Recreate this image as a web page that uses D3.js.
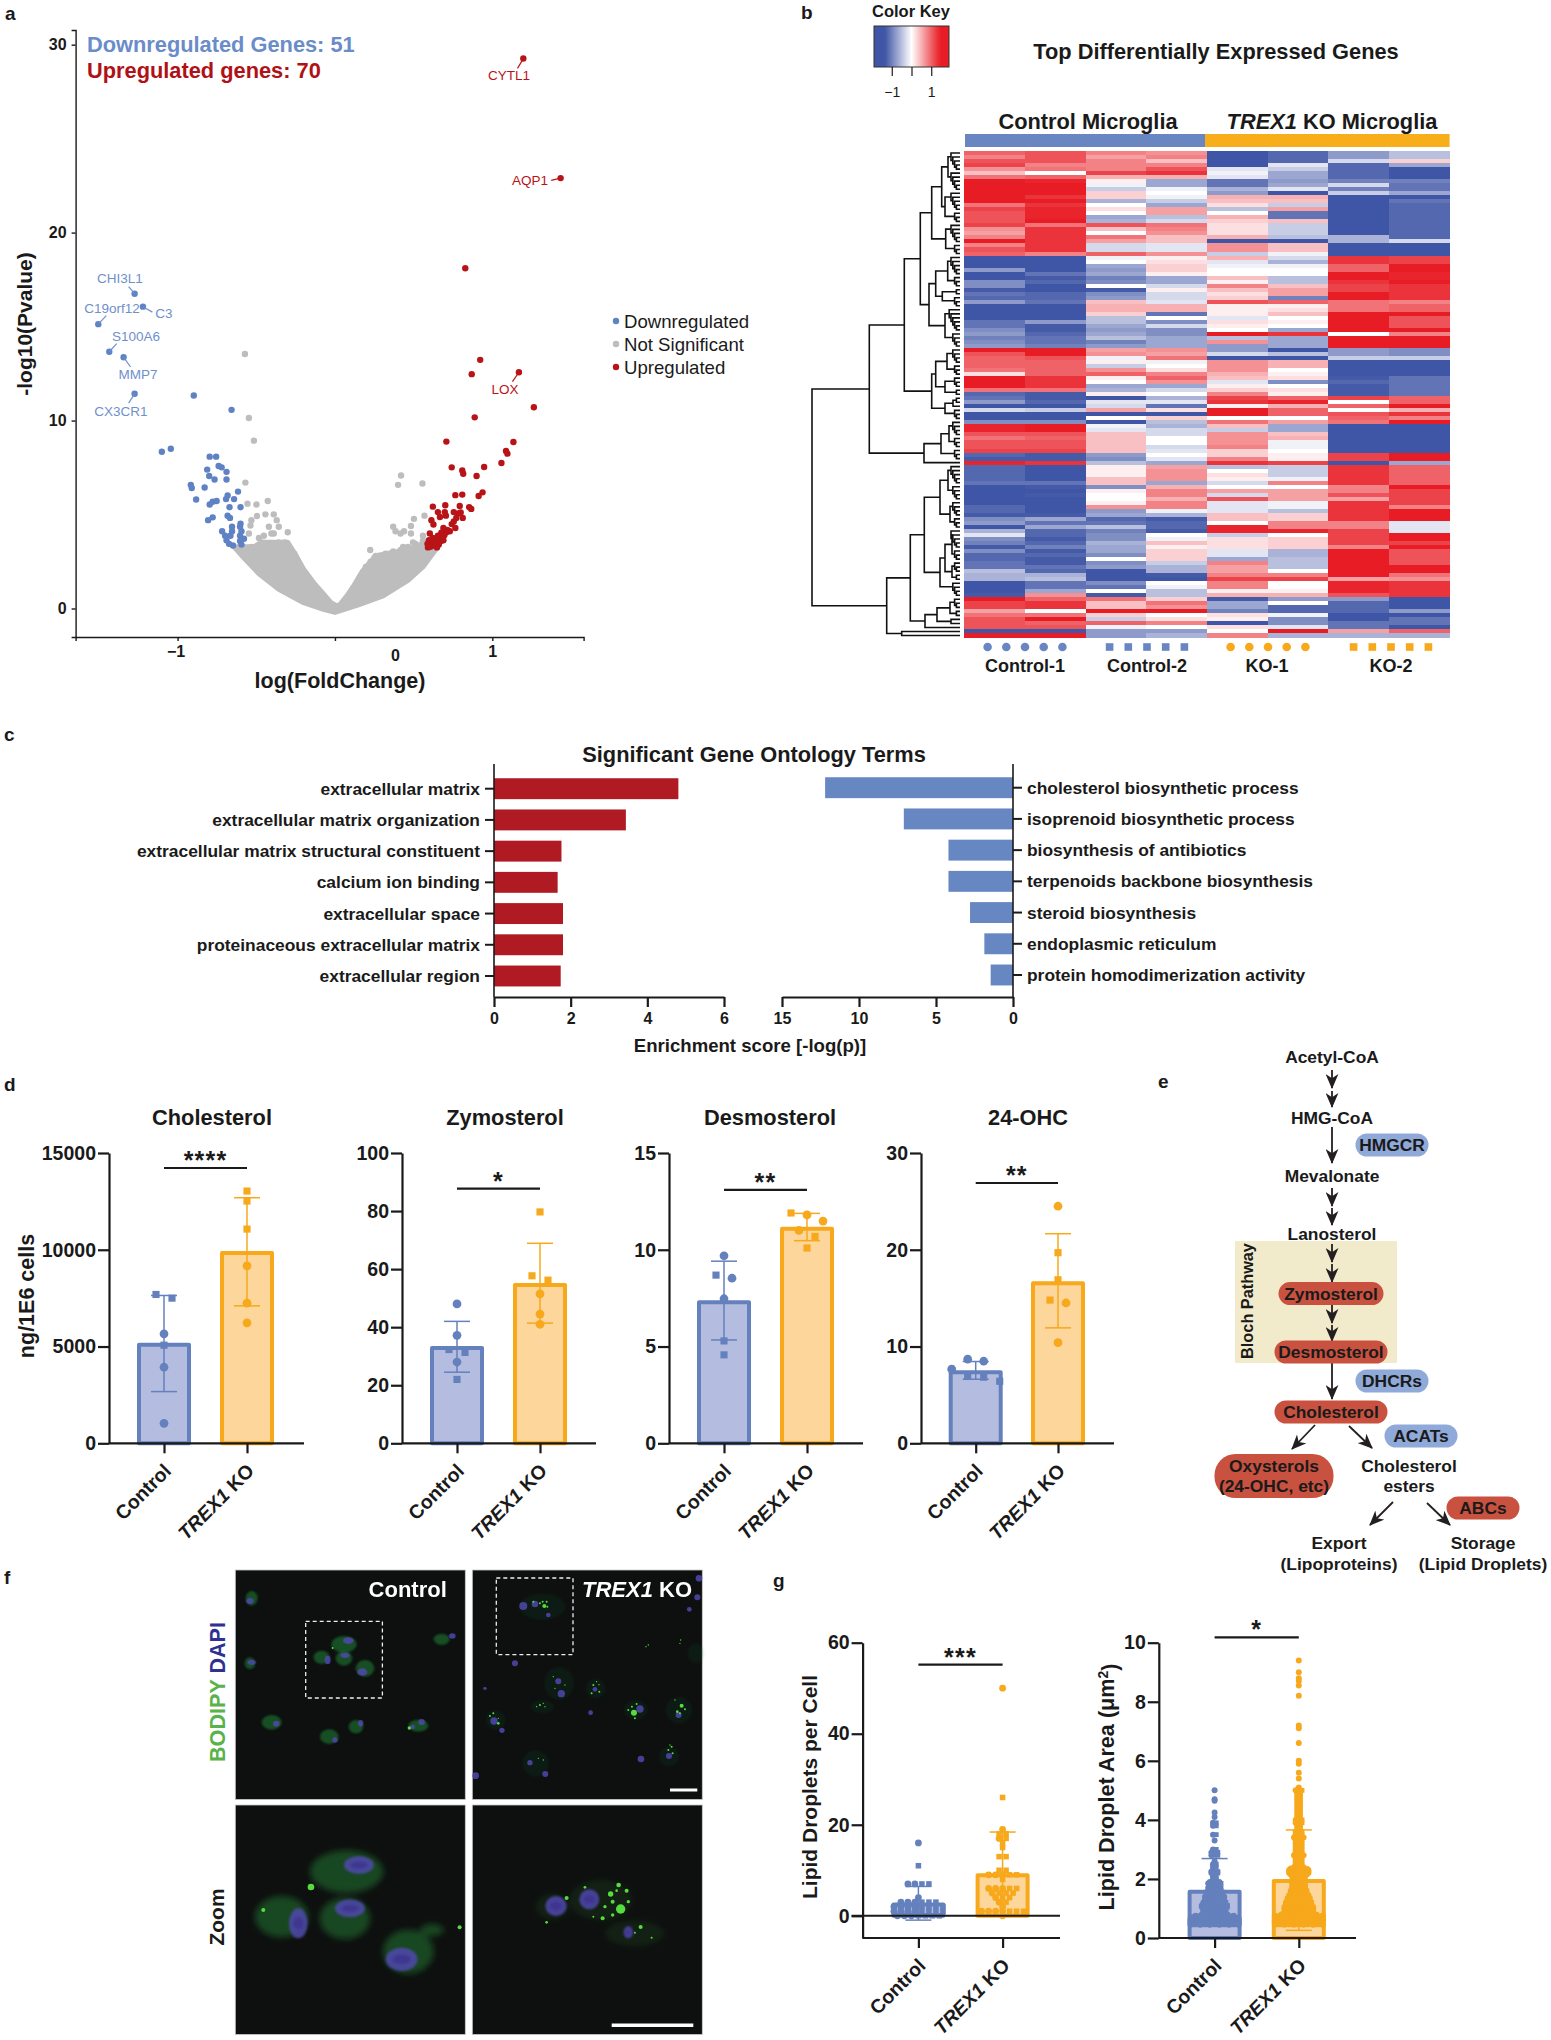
<!DOCTYPE html>
<meta charset="utf-8">
<style>
  body { margin: 0; background: #fff; }
  text { font-family: "Liberation Sans", Arial, sans-serif; fill: #1a1a1a; }
  .b { font-weight: bold; }
</style>
<svg width="1551" height="2040"></svg>
<script src="https://cdnjs.cloudflare.com/ajax/libs/d3/7.8.5/d3.min.js"></script>
<script>

// ---------- a: volcano ----------
var upX = [1.197,1.434,.828,.923,1.169,.869,1.264,.888,.708,1.134,1.087,1.096,1.058,.948,.742,.809,.815,.900,.938,.913,.765,.809,.622,.701,.793,.853,.866,.654,.698,.667,.755,.799,.784,.812,.613,.626,.742,.689,.765,.730,.708,.682,.603,.654,.622,.686,.648,.597,.673,.638,.610,.660,.622,.591,.648,.616,.632,.667,.695,.714,.607,.635,.657,.755,.705,.689,.641,.588,.676,.771];
var upY = [29.26,22.90,18.10,13.23,12.57,12.47,10.71,10.17,8.88,8.86,8.38,8.24,7.74,7.53,7.51,7.34,7.17,7.05,6.18,5.99,6.03,6.06,5.42,5.49,5.46,5.39,5.30,5.13,5.13,4.87,5.13,5.11,5.06,4.82,4.70,4.47,4.49,4.28,4.28,4.11,4.06,3.99,3.99,3.87,3.75,3.75,3.63,3.63,3.59,3.52,3.44,3.40,3.35,3.25,3.25,3.56,3.66,3.71,3.90,4.18,3.28,3.42,3.56,4.63,4.94,3.63,3.35,3.44,4.04,4.82];
var downX = [-1.273,-1.220,-1.504,-1.434,-1.343,-1.273,-.897,-.657,-1.100,-1.043,-.796,-.755,-.739,-.720,-.812,-.689,-.799,-.765,-.689,-.916,-.910,-.828,-.616,-.682,-.641,-.882,-.692,-.752,-.777,-.796,-.670,-.600,-.682,-.667,-.777,-.806,-.600,-.654,-.717,-.603,-.594,-.654,-.698,-.664,-.603,-.578,-.689,-.603,-.673,-.648,-.594];
var downY = [16.75,16.06,15.13,13.66,13.37,11.43,11.33,10.57,8.34,8.50,8.08,8.08,7.58,7.51,7.39,7.27,7.05,6.86,6.86,6.58,6.41,6.44,6.22,6.01,5.82,5.80,5.82,5.72,5.68,5.53,5.39,5.39,4.94,4.82,4.85,4.70,4.51,4.35,4.11,4.35,4.11,4.11,3.87,3.87,3.87,3.71,3.63,3.59,3.44,3.35,3.40];
var nsX = [-.572,-.547,-.515,-.569,.420,.401,.556,-.427,-.556,-.499,-.442,-.389,-.496,-.531,-.370,-.537,-.357,-.300,-.420,-.404,-.452,-.483,-.389,-.547,-.319,-.363,.370,.502,.483,.569,.385,.439,.483,.417,.224,.559,.496,.433,.322,.259,.354,-.259,-.278,-.468,
  -.246,-.310,-.357,-.404,-.452,-.499,-.531,-.231,-.199,-.167,.180,.227,.275,.370,.417,.464,.512,.559,.164,.133,.196,.250];
var nsY = [13.54,10.14,8.93,6.70,7.08,6.58,6.65,5.72,5.58,5.53,5.01,5.01,4.92,4.70,4.70,4.42,4.35,4.06,4.35,3.99,3.87,3.75,3.99,3.99,3.52,3.35,4.35,4.77,4.39,4.94,4.11,4.11,3.99,3.99,3.11,3.87,3.52,3.28,2.92,2.80,2.80,2.92,3.04,3.52,
  2.68,3.28,3.52,3.28,3.40,3.04,3.28,2.33,1.97,1.62,1.97,2.49,2.80,3.04,3.11,3.28,3.44,3.59,1.50,1.26,2.21,2.68];
// outline of the dense grey mass, going round it once
var massX = [0,.149,.306,.464,.559,.654,.591,.512,.401,.322,.259,.196,.164,.123,.076,.022,0,-.025,-.073,-.136,-.199,-.246,-.300,-.373,-.468,-.515,-.641,-.578,-.483,-.357,-.199,-.073];
var massY = [-.21,.19,.67,1.50,2.21,3.28,3.59,3.28,3.04,2.92,2.80,2.21,1.85,1.26,.67,.12,.19,.31,.78,1.38,2.09,2.80,3.52,3.52,3.52,3.28,3.28,2.68,1.85,1.02,.31,-.05];

var geneNames = ["CHI3L1","C19orf12","C3","S100A6","MMP7","CX3CR1","CYTL1","AQP1","LOX"];
var geneX = [-1.273,-1.504,-1.220,-1.434,-1.343,-1.273,1.197,1.434,1.169];
var geneY = [16.75,15.13,16.06,13.66,13.37,11.43,29.26,22.90,12.57];
var geneEndX = [-1.311,-1.453,-1.160,-1.387,-1.299,-1.311,1.160,1.374,1.128];
var geneEndY = [17.13,15.58,15.77,14.09,12.85,10.93,28.74,22.78,12.07];
var legendNames = ["Downregulated","Not Significant","Upregulated"];

// ---------- b: heatmap, one array per column, top row first ----------
var heatCol1 = [1.0,.8,1.1,1.2,.7,.4,.9,1.5,1.6,1.6,1.6,1.6,1.6,.9,1.2,1.1,1.1,1.1,1.2,.7,.6,.8,1.5,.8,1.1,1.0,
  -1.4,-1.4,-1.4,-.8,-1.4,-1.4,-.9,-.9,-1.3,-1.1,-1.2,-.8,-1.5,-1.5,-1.5,-1.5,-1.1,-1.1,-.9,-.8,-1.0,-.9,-.8,
  1.5,1.1,1.0,1.0,1.0,.9,.2,1.5,
  1.5,1.5,.9,-1.2,-1.1,-.8,-1.4,-.3,-1.5,-1.5,-.9,1.4,1.4,1.1,.9,1.1,1.1,1.2,-1.2,-1.3,1.4,
  -1.2,-1.2,-1.2,-1.2,-1.1,-1.4,-1.5,-1.5,-1.4,-1.4,-1.2,-1.2,-1.3,-.9,-.8,-1.5,-.6,-.2,-.9,-1.0,-1.3,-.9,-1.2,-1.2,-1.1,-1.1,-.5,-.6,-.6,-1.5,-1.5,-1.5,-1.3,
  1.5,1.2,1.2,.6,.9,1.1,1.1,1.1,-1.4,1.5];
var heatCol2 = [1.1,1.1,1.1,.8,.9,0,1.0,1.4,1.5,1.5,1.5,1.3,1.6,1.3,1.4,1.4,1.4,1.6,.9,1.3,1.3,1.3,1.3,1.3,1.3,.8,
  -1.5,-1.5,-1.5,-1.5,-1.1,-1.3,-1.2,-1.4,-1.4,-1.2,-1.2,-1.1,-1.5,-1.5,-1.5,-1.5,-.8,-1.3,-1.3,-1.2,-1.1,-1.1,-1.0,
  1.5,1.5,1.1,1.0,1.0,1.0,1.0,1.3,
  1.3,1.3,.9,-1.3,-1.3,-1.2,-1.4,-.4,-1.6,-1.6,-.9,1.6,1.5,1.1,1.0,1.1,1.1,1.2,-1.3,-1.3,1.3,
  -1.5,-1.5,-1.5,-1.4,-1.1,-1.3,-1.4,-1.3,-1.5,-1.5,-1.4,-1.4,-1.3,-.7,-1.1,-.7,-1.2,-1.2,-1.3,-1.2,-1.0,-1.3,-1.2,-1.3,-1.3,-1.1,-1.2,-.6,-.5,-1.1,-1.1,-.7,.7,
  1.0,1.3,1.3,0,.9,1.5,1.0,1.1,-1.4,1.5];
var heatCol3 = [.8,.6,.8,.8,.8,1.2,.5,.1,-.1,-.4,.3,.3,-.6,0,.2,0,-.7,-.6,1.1,.4,0,.9,.6,-.3,-.3,1.0,
  -.1,0,-.7,-.8,-.7,-1.0,-.9,0,-1.3,-.9,-.8,.4,.5,.5,.3,-.5,-.5,-.7,-.8,-.7,-.5,-1.0,-.8,
  .6,.7,-.1,.1,-.4,.7,1.0,.1,
  0,-.7,-.6,.1,-1.4,-.2,-.3,.6,-1.5,0,-1.5,-.1,-.2,.4,.4,.4,.4,.4,-.8,-.9,-.5,
  .1,.1,.1,.4,.4,-.9,.1,0,0,.1,.7,-.8,-.7,-1.2,-1.1,-.5,-1.0,-.9,-.9,-.6,-.7,-.7,-.9,0,-.9,-.8,-1.4,-1.4,-1.4,-.9,-1.1,0,-1.3,
  .9,.4,.4,1.5,.3,-.4,1.0,-.1,-.8,-.8];
var heatCol4 = [.7,.8,.4,.8,1.1,1.3,.5,-.7,-.7,-.1,0,-.1,-.4,-.7,.6,.6,-.5,-.3,.9,.8,.7,.4,.4,-.2,-.2,.7,
  .1,.2,.3,.3,.1,-.7,-.7,-.3,.1,-.3,-.3,-.2,.5,.5,-1.1,0,-.9,-.3,-.9,-.9,-.7,-.7,-.7,
  .7,.6,.9,-.1,0,.2,.8,1.0,
  .7,-.7,-.3,0,-.6,-.2,-1.1,.2,-1.4,.3,-.5,-.6,-.3,-.3,0,0,-.3,-.2,0,-.2,-.7,
  .6,.7,.7,.7,-.7,.5,.8,.8,.5,.8,.8,-.1,-.6,-1.3,-1.2,-1.2,-1.3,0,-.1,.4,.1,.3,.3,.3,-.4,-.6,-.6,-1.3,-1.4,0,-.1,-.5,-.5,
  .3,.9,.7,1.5,0,.2,.8,0,-.8,-.6];
var heatCol5 = [-1.5,-1.5,-1.4,-1.4,-.2,-.1,-.2,-1.1,-1.1,-.6,-.8,.5,.4,.2,-.5,0,.5,.3,.2,.2,.2,.5,-1.5,.7,.7,-.4,
  .5,-.2,-.1,0,0,.4,.1,.8,.4,.2,.3,1.1,.1,.1,.1,-.2,.2,.1,0,1.7,-.5,.7,-.8,
  -.8,-.3,-1.4,.7,.7,.7,.5,.4,
  -.2,.1,.3,.8,1.2,1.3,.1,1.5,1.5,0,.9,.4,-.4,.7,.7,.7,.8,.3,.3,.8,1.3,
  -.5,0,.2,.1,-.3,0,.6,-.3,1.1,-.2,-.2,-.2,.4,.4,0,1.4,1.4,-.4,.2,.2,.2,-.2,-.2,-.7,.8,.6,.6,.8,1.2,.8,.8,.1,.5,
  -1.3,-.7,-.7,-1.0,.2,.1,-1.4,.2,0,.8];
var heatCol6 = [-1.2,-1.2,-1.2,-.2,-.4,-.7,-.7,-.8,-.7,-.2,-1.4,.5,.4,-.4,.6,-1.1,-1.1,.4,-.4,-.4,-.4,-.5,-1.4,.4,.4,-.1,
  -.3,-.6,-.1,0,0,-.5,-.5,.4,.6,.6,-1.0,1.0,.1,.2,.4,0,.1,0,-.7,1.3,-.7,-.7,-.7,
  -1.4,-.5,-1.4,.5,.5,0,.1,.2,
  -.9,0,.2,.1,1.0,1.4,.5,1.0,1.0,0,.6,-.7,-.7,.4,.5,-.1,-.1,0,.1,.1,1.2,
  -.4,-.4,-.4,-.1,.8,0,.6,.6,.6,-.1,-.1,-.5,.3,.3,.8,.8,1.4,0,.3,.3,.3,-.6,-.6,-.5,-.5,-.5,0,.8,1.2,0,0,.1,.5,
  -.8,0,-1.2,-1.2,-.1,-.9,-.9,-.2,1.5,-.6];
var heatCol7 = [-.8,-.8,-.3,-1.2,-1.2,-1.2,-1.2,-1.0,-.3,-1.0,-.4,-1.5,-1.5,-1.5,-1.4,-1.4,-1.4,-1.4,-1.4,-1.4,-1.4,-.6,-.6,-1.4,-1.5,-1.4,
  1.3,1.3,1.0,1.0,1.5,1.5,1.3,1.2,1.2,1.6,1.6,.9,.9,.9,1.6,1.6,1.6,1.6,1.6,0,1.7,1.7,1.7,
  -.8,-.8,-.4,-1.4,-1.4,-1.4,-1.4,-1.3,
  -1.2,-1.3,-1.3,-1.3,1.2,0,1.0,0,1.1,1.0,.9,-1.4,-1.4,-1.4,-1.4,-1.4,-1.4,-1.4,1.2,1.2,-1.4,
  1.3,1.3,1.3,1.3,1.3,.8,.8,1.1,.6,1.3,1.3,1.3,1.3,1.3,.8,.8,1.2,1.2,1.2,1.2,.8,1.6,1.6,1.6,1.6,1.6,1.6,1.6,.6,1.4,1.4,1.4,1.1,
  -.8,-1.2,-1.2,-1.2,-1.5,-1.5,-1.1,-1.1,.6,-.6];
var heatCol8 = [-.5,-.5,.3,-.7,-1.4,-1.4,-1.4,-1.0,-1.1,-1.1,-.7,-1.4,-1.1,-1.2,-1.2,-1.2,-1.2,-1.2,-1.2,-1.2,-1.2,-1.2,-.3,-1.5,-1.5,-1.5,
  1.2,1.2,1.7,1.7,1.4,1.4,1.7,1.3,1.3,1.3,1.3,.8,1.0,1.0,1.5,1.1,1.1,1.1,1.6,.8,1.5,1.5,1.5,
  -.9,-.9,-.4,-1.5,-1.5,-1.5,-1.5,-1.1,
  -1.1,-1.1,-1.1,-1.1,1.0,1.0,1.6,.5,1.3,.8,1.6,-1.4,-1.4,-1.4,-1.4,-1.4,-1.4,-1.4,1.5,1.5,-.7,
  1.0,1.0,1.0,1.0,1.0,1.6,1.2,1.2,1.2,1.2,.8,1.5,1.5,1.5,-.2,-.2,-.2,1.6,1.6,1.2,1.5,1.1,1.1,1.1,1.1,1.6,1.6,.9,.7,1.3,1.3,1.3,1.3,
  -1.4,-1.4,-1.4,-.8,-1.5,-1.1,-1.1,-1.4,1.0,-.6];
var heatCols = [heatCol1,heatCol2,heatCol3,heatCol4,heatCol5,heatCol6,heatCol7,heatCol8];
var sampleNames = ["Control-1","Control-2","KO-1","KO-2"];
var keyTicks = [-1,0,1];

// row dendrogram: [merge height, upper, lower]; a bare number is a small comb of that many rows
var rowTree = [148,
  [90.7,
    [55.7,
      [39.7,
        [28.3, [18.3, [12,5,5], [15,5,3]], [14.3,5,3]],
        [31, [24.3, [12.3,5,3], [17.7,2,3]], [15,6,4]]],
      [28.3, [24.3, [13,4,3], [15,3,2]], [15,[7,2,1],3]]],
    [36, [19, [11,4,3], 3], 1]],
  [73.3,
    [49.7,
      [35.7, [20,[12,5,4],[10,4,3]], [20,[15,[8,5,3],[8,3,2]],4]],
      [35,[23,[10,3,2],[9,1,1]],1]],
    [58.3,1,1]]];

// ---------- c: GO terms ----------
var upTerms = ["extracellular matrix","extracellular matrix organization","extracellular matrix structural constituent","calcium ion binding","extracellular space","proteinaceous extracellular matrix","extracellular region"];
var upScores = [4.81,3.44,1.76,1.66,1.8,1.8,1.74];
var downTerms = ["cholesterol biosynthetic process","isoprenoid biosynthetic process","biosynthesis of antibiotics","terpenoids backbone biosynthesis","steroid biosynthesis","endoplasmic reticulum","protein homodimerization activity"];
var downScores = [12.2,7.09,4.19,4.19,2.79,1.86,1.45];

// ---------- d: sterols ----------
var groups = ["Control","TREX1 KO"];
var cholMean = [5086,9827], cholHi = [7638,12690], cholLo = [2672,7103];
var cholCtrlCirc = [5655,3931,1034], cholCtrlSq = [7500,7690,5070];
var cholKoCirc = [9172,7241,6224], cholKoSq = [13034,12517,11069];
var zymoMean = [32.8,54.5], zymoHi = [42,68.9], zymoLo = [24.5,41.4];
var zymoCtrlCirc = [48,37.2,28], zymoCtrlSq = [32.3,31.3,22];
var zymoKoCirc = [51.5,44.5,41], zymoKoSq = [79.7,57.7,56.2];
var desmoMean = [7.29,11.09], desmoHi = [9.41,11.88], desmoLo = [5.34,10.47];
var desmoCtrlCirc = [9.69,8.53,7.47], desmoCtrlSq = [8.69,5.29,4.57];
var desmoKoCirc = [11.8,11.48,11.0], desmoKoSq = [11.9,10.69,10.09];
var ohcMean = [7.34,16.55], ohcHi = [8.45,21.66], ohcLo = [6.62,11.93];
var ohcCtrlCirc = [8.69,8.48,7.66], ohcCtrlSq = [7.0,6.83,6.41];
var ohcKoCirc = [24.5,14.5,10.4], ohcKoSq = [19.7,16.9,14.8];

// ---------- g: lipid droplets ----------
var ldMean = [2.5,8.9], ldHi = [6.45,18.4], ldLo = [-.95,-.1];
var ldCtrlCirc = [16,7,7,4,3,3,3,2,2,2,2,1,1,1,1,0,0,0];
var ldCtrlSq = [11,7,7,3,3,3,2,2,2,2,1,1,1,1,0,0,0,0];
var ldKoCirc = [50,19,17,9,9,9,6,6,6,5,4,3,2,1,1,1,1,0];
var ldKoSq = [26,18,18,17,16,15,13,13,10,10,9,9,8,6,6,5,5,5,4,4,3,1,1,1];
var areaMean = [1.57,1.93], areaHi = [2.69,3.66], areaLo = [.45,.26];
var areaCtrlVal = [.45,.5,.55,.6,.65,.7,.75,.8,.85,.9,.95,1,1.05,1.1,1.15,1.2,1.25,1.3,1.35,1.4,1.45,1.5,1.55,1.6,1.65,1.7,1.75,1.8,1.85,1.9,1.95,2,2.1,2.2,2.25,2.4,2.5,2.6,2.8,2.9,3,3.3,3.5,3.8,3.9,4.1,4.25,4.65,4.7,5];
var areaCtrlNum = [16,16,16,16,16,15,13,9,8,8,8,8,9,9,8,8,7,7,6,7,6,6,6,5,4,5,3,3,5,4,2,2,2,3,3,2,2,1,3,3,2,1,2,2,2,1,1,1,1,1];
var areaKoVal = [.45,.5,.55,.6,.65,.7,.75,.8,.85,.9,.95,1,1.05,1.1,1.15,1.2,1.25,1.3,1.35,1.4,1.45,1.5,1.55,1.6,1.65,1.7,1.75,1.8,1.85,1.9,1.95,2,2.05,2.1,2.15,2.2,2.25,2.3,2.35,2.4,2.5,2.6,2.7,2.8,2.9,3,3.1,3.2,3.3,3.4,3.5,3.6,3.7,3.8,3.9,4,4.1,4.2,4.3,4.4,4.5,4.6,4.7,4.8,4.9,5,5.1,5.4,5.6,5.9,6,6.6,7.1,7.2,8.2,8.55,8.7,8.8,9,9.4];
var areaKoNum = [16,16,16,16,16,16,16,12,10,10,9,10,10,9,9,9,8,8,8,7,7,6,6,6,5,5,5,5,5,4,4,4,5,5,6,7,7,7,6,4,3,3,3,4,3,3,3,3,3,4,3,3,2,2,3,3,2,2,2,2,2,2,2,2,2,3,1,1,1,1,1,1,1,1,1,1,1,1,1,1];

// ---------- f: micrograph blobs, [x, y, rx, ry] on a 690 unit wide panel ----------
var tlBodies = [[49,85,18,22],[44,280,16,18],[326,223,38,25],[259,262,24,20],[326,265,25,22],[389,295,28,25],[619,208,24,17],[109,457,30,22],[282,500,28,22],[362,470,22,20],[549,467,30,18]];
var tlNuclei = [[44,93,11,9],[49,277,12,8],[339,212,16,10],[277,270,9,13],[329,256,14,8],[381,306,15,11],[651,198,10,8],[123,461,10,9],[299,510,8,8],[376,460,8,10],[559,456,10,9],[532,471,7,7]];
var tlSpots = [[522,474,5,5],[292,234,3,3]];
var trBodies = [[210,110,70,40],[260,340,45,50],[370,355,30,30],[70,450,30,30],[490,420,35,30],[620,420,40,40],[590,560,30,30],[190,580,40,40],[670,250,25,30],[210,410,35,20]];
var trNuclei = [[153,108,12,12],[188,102,10,10],[228,135,7,7],[680,25,10,10],[675,82,9,9],[651,118,7,7],[128,280,9,9],[258,334,9,9],[267,371,11,11],[368,358,7,7],[503,417,11,11],[619,435,9,9],[65,453,11,11],[89,481,8,8],[355,428,7,7],[506,567,10,10],[590,558,9,9],[173,578,8,8],[219,612,9,9],[10,617,10,10],[38,355,5,5]];
var trSpots = [[216,108,6,6],[211,95,3,3],[223,95,3,3],[203,100,3,3],[183,95,3,3],[225,110,3,3],[485,428,9,9],[479,410,3,3],[493,402,3,3],[468,420,3,3],[488,445,3,3],[628,407,6,6],[615,425,4,4],[623,430,3,3],[608,390,2,2],[638,418,3,3],[363,345,3,3],[380,344,2,2],[358,370,3,3],[381,365,3,3],[373,335,2,2],[53,438,3,3],[63,430,3,3],[78,460,4,4],[78,445,2,2],[588,540,3,3],[598,530,3,3],[601,550,3,3],[593,525,2,2],[203,405,3,3],[218,410,2,2],[213,400,2,2],[193,410,2,2],[528,225,2,2],[521,230,2,2],[625,210,2,2],[623,220,2,2],[248,355,2,2],[278,345,2,2],[243,320,2,2],[213,570,2,2],[198,565,2,2]];
var blBodies = [[334,200,110,64],[139,335,80,62],[329,340,76,62],[519,440,76,66],[590,375,35,18]];
var blNuclei = [[371,180,45,27],[344,310,45,27],[189,355,28,45],[499,463,48,35]];
var blSpots = [[227,246,10,10],[84,315,6,6],[673,367,6,6]];
var brBodies = [[385,285,95,62],[487,385,90,40],[240,305,50,40]];
var brNuclei = [[251,303,32,30],[351,283,30,30],[468,382,14,18]];
var brSpots = [[445,312,14,14],[415,267,8,8],[439,240,7,7],[463,257,6,6],[421,290,6,6],[398,305,5,5],[468,290,5,5],[433,257,4,4],[391,340,6,6],[421,330,5,5],[283,279,6,6],[223,352,4,4],[338,247,4,4],[505,366,6,6],[488,383,3,3],[538,398,3,3],[363,335,3,3]];

// ---------- shared ----------
var svg = d3.select("svg");
var blue = "#6480bd", blueFill = "#b4bde0", orange = "#f7a81b", orangeFill = "#fcd69a";

function panelLetter(s, x, y) {
  svg.append("text").attr("class", "b").attr("x", x).attr("y", y).attr("font-size", 19).text(s);
}
function centerText(g, s, x, y, size, bold) {
  return g.append("text").attr("class", bold === false ? "" : "b")
    .attr("x", x).attr("y", y).attr("dy", "0.35em").attr("text-anchor", "middle")
    .attr("font-size", size).text(s);
}
function styleAxis(a, w) {
  a.selectAll("path, line").attr("stroke", "#1a1a1a").attr("stroke-width", w);
  a.selectAll("text").attr("fill", "#1a1a1a").attr("font-family", '"Liberation Sans", Arial, sans-serif');
}
panelLetter("a", 5, 20); panelLetter("b", 801, 19); panelLetter("c", 4, 741);
panelLetter("d", 4, 1091); panelLetter("e", 1158, 1088); panelLetter("f", 4, 1584); panelLetter("g", 773, 1587);

// ---------- a ----------
(function () {
  var g = svg.append("g");
  var x = d3.scaleLinear([-1.648, 1.58], [75.6, 583.6]);
  var y = d3.scaleLinear([-1.516, 30.78], [637, 30]);

  g.append("path")
    .attr("d", d3.line().x(function (d) { return x(massX[d]); }).y(function (d) { return y(massY[d]); })(d3.range(massX.length)) + "Z")
    .attr("fill", "#bdbdbd").attr("stroke", "#bdbdbd").attr("stroke-width", 5).attr("stroke-linejoin", "round");

  function dots(xs, ys, color) {
    g.append("g").selectAll("circle").data(xs).enter().append("circle")
      .attr("cx", function (d) { return x(d); })
      .attr("cy", function (d, i) { return y(ys[i]); })
      .attr("r", 3.2).attr("fill", color);
  }
  dots(nsX, nsY, "#bdbdbd");
  dots(downX, downY, "#5f82c4");
  dots(upX, upY, "#b81418");

  var yAxis = g.append("g").attr("transform", "translate(75.6,0)").call(d3.axisLeft(y).tickValues([0,10,20,30]).tickSize(4));
  var xAxis = g.append("g").attr("transform", "translate(0,637)").call(d3.axisBottom(x).tickValues([-1,0,1]).tickFormat(d3.format("d")).tickSize(4));
  styleAxis(yAxis, 1.4); styleAxis(xAxis, 1.4);
  yAxis.selectAll("text").attr("font-size", 16).attr("font-weight", "bold").attr("x", -9);
  xAxis.selectAll("text").attr("font-size", 16).attr("font-weight", "bold").attr("y", 9);
  // the 0 label sits off its tick in the original
  xAxis.selectAll("text").filter(function (d) { return d === 0; }).attr("x", 60).attr("y", 13);
  xAxis.selectAll("text").filter(function (d) { return d === -1; }).attr("x", -2);

  var labelColor = geneX.map(function (d) { return d < 0 ? "#6f90cc" : "#b81418"; });
  g.append("g").selectAll("line").data(geneNames).enter().append("line")
    .attr("x1", function (d, i) { return x(geneX[i]); }).attr("y1", function (d, i) { return y(geneY[i]); })
    .attr("x2", function (d, i) { return x(geneEndX[i]); }).attr("y2", function (d, i) { return y(geneEndY[i]); })
    .attr("stroke", function (d, i) { return labelColor[i]; }).attr("stroke-width", 1.2);
  var labelPx = [[120,278],[112,308],[164,313],[136,336],[138,374],[121,411],[509,75],[530,180],[505,389]];
  g.append("g").selectAll("text").data(geneNames).enter().append("text")
    .attr("x", function (d, i) { return labelPx[i][0]; }).attr("y", function (d, i) { return labelPx[i][1]; })
    .attr("dy", "0.35em").attr("text-anchor", "middle").attr("font-size", 13.5)
    .style("fill", function (d, i) { return labelColor[i]; }).text(function (d) { return d; });

  g.append("text").attr("class", "b").attr("x", 87).attr("y", 52).attr("font-size", 21.8).style("fill", "#6a8cc8").text("Downregulated Genes: 51");
  g.append("text").attr("class", "b").attr("x", 87).attr("y", 78).attr("font-size", 21.8).style("fill", "#b01116").text("Upregulated genes: 70");
  centerText(g, "log(FoldChange)", 340, 680, 21.5);
  centerText(g, "-log10(Pvalue)", 0, 0, 21).attr("transform", "translate(25,324)rotate(-90)");

  var legendColor = ["#5f82c4", "#bdbdbd", "#b81418"];
  var legend = g.append("g").selectAll("g").data(legendNames).enter().append("g")
    .attr("transform", function (d, i) { return "translate(616," + (321 + i * 23) + ")"; });
  legend.append("circle").attr("r", 3.2).attr("fill", function (d, i) { return legendColor[i]; });
  legend.append("text").attr("x", 8).attr("dy", "0.35em").attr("font-size", 18.6).text(function (d) { return d; });
})();

// ---------- b ----------
(function () {
  var g = svg.append("g");
  var heatColor = d3.scaleLinear([-1.35, 0, 1.45], ["#3f55a5", "#ffffff", "#e81c24"]).clamp(true);
  var x = d3.scaleBand(d3.range(8), [964.4, 1449.6]);
  var y = d3.scaleBand(d3.range(121), [151, 637.5]);

  var col = g.append("g").attr("shape-rendering", "crispEdges").selectAll("g").data(heatCols).enter().append("g")
    .attr("transform", function (d, i) { return "translate(" + x(i) + ",0)"; });
  col.selectAll("rect").data(function (d) { return d; }).enter().append("rect")
    .attr("y", function (d, i) { return y(i); })
    .attr("width", x.bandwidth() + .5).attr("height", y.bandwidth() + .5)
    .attr("fill", function (d) { return heatColor(d); });

  // dendrogram
  function expand(t) {
    if (t === 1) return { h: 0 };
    if (typeof t === "number") return { h: t * 1.8, children: [{ h: 0 }, expand(t - 1)] };
    return { h: t[0], children: [expand(t[1]), expand(t[2])] };
  }
  var root = d3.hierarchy(expand(rowTree));
  var tx = d3.scaleLinear([0, 148], [960, 812]);
  var row = 0;
  root.eachAfter(function (n) {
    n.py = n.children ? (n.children[0].py + n.children[1].py) / 2 : y(row++) + y.bandwidth() / 2;
    n.px = tx(n.data.h);
  });
  g.append("path")
    .attr("d", root.descendants().filter(function (n) { return n.children; }).map(function (n) {
      var a = n.children[0], b = n.children[1];
      return "M" + a.px + "," + a.py + "H" + n.px + "V" + b.py + "H" + b.px;
    }).join(""))
    .attr("fill", "none").attr("stroke", "#111").attr("stroke-width", 1.6);

  // group bar and heads
  g.append("rect").attr("x", 965).attr("y", 134).attr("width", 240).attr("height", 13).attr("fill", "#6a86c2");
  g.append("rect").attr("x", 1205).attr("y", 134).attr("width", 244.6).attr("height", 13).attr("fill", "#f7ae1a");
  centerText(g, "Control Microglia", 1088, 121, 21.8);
  var ko = centerText(g, "", 1332, 121, 21.8);
  ko.append("tspan").attr("font-style", "italic").text("TREX1");
  ko.append("tspan").text(" KO Microglia");
  centerText(g, "Top Differentially Expressed Genes", 1216, 51, 21.8);

  // sample markers
  var labelX = [1025, 1147, 1267, 1391];
  g.selectAll(".sl").data(sampleNames).enter().append("text").attr("class", "b")
    .attr("x", function (d, i) { return labelX[i]; }).attr("y", 666).attr("dy", "0.35em")
    .attr("text-anchor", "middle").attr("font-size", 18).text(function (d) { return d; });
  var sym = [d3.symbolCircle, d3.symbolSquare];
  labelX.forEach(function (cx, s) {
    var off = s === 2 ? 1 : 0;
    d3.range(-2, 3).forEach(function (k) {
      g.append("path").attr("d", d3.symbol(sym[s % 2], 58)())
        .attr("transform", "translate(" + (cx + off + k * 18.7) + ",647)")
        .attr("fill", s < 2 ? "#6a86c2" : "#f7a81b");
    });
  });

  // colour key
  var kx = d3.scaleLinear([-1.9, 1.9], [874, 949]);
  var defs = svg.append("defs");
  var grad = defs.append("linearGradient").attr("id", "key");
  d3.range(-1.9, 1.95, .19).forEach(function (v) {
    grad.append("stop").attr("offset", (kx(v) - 874) / 75).attr("stop-color", heatColor(v));
  });
  g.append("rect").attr("x", 874).attr("y", 26).attr("width", 75).attr("height", 41).attr("fill", "url(#key)").attr("stroke", "#333").attr("stroke-width", 1);
  var kAxis = g.append("g").attr("transform", "translate(0,67)").call(d3.axisBottom(kx).tickValues(keyTicks).tickSize(9).tickFormat(function (d) { return d === 0 ? "" : d === -1 ? "\u22121" : d; }));
  styleAxis(kAxis, 1.2);
  kAxis.select(".domain").remove();
  kAxis.selectAll("text").attr("font-size", 14).attr("y", 20);
  centerText(g, "Color Key", 911, 11, 16.5);
})();

// ---------- c ----------
(function () {
  var g = svg.append("g");
  var y = d3.scaleBand(d3.range(7), [773.1, 991.6]).paddingInner(.33).paddingOuter(.165);
  var xL = d3.scaleLinear([0, 6], [494, 724]);
  var xR = d3.scaleLinear([0, 15], [1013, 782]);

  g.selectAll(".u").data(upScores).enter().append("rect")
    .attr("x", xL(0)).attr("y", function (d, i) { return y(i); })
    .attr("width", function (d) { return xL(d) - xL(0); }).attr("height", y.bandwidth()).attr("fill", "#b01a22");
  g.selectAll(".d").data(downScores).enter().append("rect")
    .attr("x", function (d) { return xR(d); }).attr("y", function (d, i) { return y(i) - 1; })
    .attr("width", function (d) { return xR(0) - xR(d); }).attr("height", y.bandwidth()).attr("fill", "#6687c2");

  function bottomAxis(scale, vals) {
    var a = g.append("g").attr("transform", "translate(0,997)").call(d3.axisBottom(scale).tickValues(vals).tickFormat(d3.format("d")).tickSize(10).tickSizeOuter(0));
    styleAxis(a, 2.2);
    a.selectAll("text").attr("font-size", 16).attr("font-weight", "bold").attr("y", 16);
  }
  bottomAxis(xL, [0,2,4,6]);
  bottomAxis(xR, [15,10,5,0]);

  var left = g.append("g").attr("transform", "translate(494,0)");
  var right = g.append("g").attr("transform", "translate(1013,0)");
  [[left, -1, upTerms, 0, "end"], [right, 1, downTerms, -1, "start"]].forEach(function (c) {
    c[0].append("line").attr("y1", 764).attr("y2", 997).attr("stroke", "#1a1a1a").attr("stroke-width", 1.6);
    var t = c[0].selectAll("g").data(c[2]).enter().append("g")
      .attr("transform", function (d, i) { return "translate(0," + (y(i) + y.bandwidth() / 2 + c[3]) + ")"; });
    t.append("line").attr("x2", c[1] * 9).attr("stroke", "#1a1a1a").attr("stroke-width", 2);
    t.append("text").attr("class", "b").attr("x", c[1] * 14).attr("dy", "0.35em")
      .attr("text-anchor", c[4]).attr("font-size", 17.4).text(function (d) { return d; });
  });
  centerText(g, "Significant Gene Ontology Terms", 754, 754, 21.8);
  centerText(g, "Enrichment score [-log(p)]", 750, 1045, 18.6);
})();

// ---------- bar charts in d and g ----------
function spread(vals, y, thresh, step, half) {
  // points at nearly the same height sit side by side, centred on the bar
  var items = vals.map(function (v) { return { v: v.v, kind: v.kind, py: y(v.v) }; })
    .sort(function (a, b) { return a.py - b.py; });
  var i = 0;
  while (i < items.length) {
    var j = i;
    while (j + 1 < items.length && items[j + 1].py - items[j].py < thresh) j++;
    var n = j - i + 1, s = Math.min(step, n > 1 ? 2 * half / (n - 1) : step);
    for (var k = 0; k < n; k++) items[i + k].off = (k - (n - 1) / 2) * s;
    i = j + 1;
  }
  return items;
}

function barChart(c) {
  var g = svg.append("g");
  var y = d3.scaleLinear(c.domain, [c.y0, c.yTop]);
  var x = d3.scalePoint(groups, [c.c1, c.c2]);
  var fills = [blueFill, orangeFill], strokes = [blue, orange];

  groups.forEach(function (name, i) {
    var base = c.zero === undefined ? c.y0 : y(0);
    g.append("rect").attr("x", x(name) - 25).attr("width", 50)
      .attr("y", y(c.mean[i])).attr("height", base - y(c.mean[i]))
      .attr("fill", fills[i]).attr("stroke", strokes[i]).attr("stroke-width", 4).attr("stroke-linejoin", "round");

    var pts = c.points[i];
    g.append("line").attr("x1", x(name)).attr("x2", x(name))
      .attr("y1", y(c.hi[i])).attr("y2", y(c.lo[i])).attr("stroke", strokes[i]).attr("stroke-width", 1.5);
    [c.hi[i], c.lo[i]].forEach(function (v) {
      g.append("line").attr("x1", x(name) - 13).attr("x2", x(name) + 13)
        .attr("y1", y(v)).attr("y2", y(v)).attr("stroke", strokes[i]).attr("stroke-width", 1.5);
    });

    var placed = spread(pts, y, c.thresh, c.step, 27);
    g.append("g").selectAll("path").data(placed).enter().append("path")
      .attr("d", function (d) { return d3.symbol(d.kind === "s" ? d3.symbolSquare : d3.symbolCircle, d.kind === "s" ? c.size * 0.85 : c.size)(); })
      .attr("transform", function (d) { return "translate(" + (x(name) + d.off) + "," + d.py + ")"; })
      .attr("fill", strokes[i]);
  });

  var yAxis = g.append("g").attr("transform", "translate(" + c.axisX + ",0)")
    .call(d3.axisLeft(y).tickValues(c.ticks).tickFormat(d3.format("d")).tickSize(11).tickSizeOuter(0));
  var xAxis = g.append("g").attr("transform", "translate(0," + c.y0 + ")")
    .call(d3.axisBottom(x).tickSize(10).tickSizeOuter(0));
  xAxis.select(".domain").attr("d", "M" + c.axisX + ",0H" + c.axisEnd);
  styleAxis(yAxis, 2.2); styleAxis(xAxis, 2.2);
  yAxis.selectAll("text").attr("font-size", 19.5).attr("font-weight", "bold").attr("x", -13);

  if (c.zero !== undefined) {
    g.append("line").attr("x1", c.axisX - 11).attr("x2", c.axisEnd).attr("y1", y(0)).attr("y2", y(0)).attr("stroke", "#1a1a1a").attr("stroke-width", 2);
  }

  xAxis.selectAll("text").each(function (d) {
    var t = d3.select(this).text(null)
      .attr("font-size", 19.5).attr("font-weight", c.labelWeight).attr("font-style", null).attr("text-anchor", "end")
      .attr("dy", "0.35em").attr("y", 0).attr("x", 0)
      .attr("transform", "translate(3,24)rotate(-45)");
    if (d === "Control") t.append("tspan").text("Control");
    else {
      t.append("tspan").attr("font-style", "italic").text("TREX1");
      t.append("tspan").text(" KO");
    }
  });

  // significance bar
  var by = y(c.bracket);
  g.append("line").attr("x1", c.bx1).attr("x2", c.bx2).attr("y1", by).attr("y2", by).attr("stroke", "#1a1a1a").attr("stroke-width", 2.2);
  g.append("text").attr("class", "b").attr("x", (c.bx1 + c.bx2) / 2).attr("y", by + 1)
    .attr("text-anchor", "middle").attr("font-size", 25).attr("letter-spacing", 1.2).text(c.stars);

  if (c.title) centerText(g, c.title, c.titleX, 1117, 21.8);
}

function mix(circ, sq) {
  return circ.map(function (v) { return { v: v, kind: "c" }; }).concat(sq.map(function (v) { return { v: v, kind: "s" }; }));
}
function expandCounts(vals, nums) {
  var out = [];
  vals.forEach(function (v, i) {
    d3.range(nums[i]).forEach(function (k) { out.push({ v: v, kind: k % 3 === 0 ? "c" : "s" }); });
  });
  return out;
}

var dBase = { y0: 1443.3, yTop: 1153, thresh: 7, step: 16, size: 60, labelWeight: "bold" };
barChart(Object.assign({}, dBase, { title: "Cholesterol", titleX: 212, domain: [0,15000], ticks: [0,5000,10000,15000], axisX: 109, axisEnd: 304, c1: 164, c2: 247, bx1: 164, bx2: 247, bracket: 14224, stars: "****",
  mean: cholMean, hi: cholHi, lo: cholLo, points: [mix(cholCtrlCirc, cholCtrlSq), mix(cholKoCirc, cholKoSq)] }));
barChart(Object.assign({}, dBase, { title: "Zymosterol", titleX: 505, domain: [0,100], ticks: [0,20,40,60,80,100], axisX: 402, axisEnd: 596, c1: 457, c2: 540, bx1: 457, bx2: 540, bracket: 87.7, stars: "*",
  mean: zymoMean, hi: zymoHi, lo: zymoLo, points: [mix(zymoCtrlCirc, zymoCtrlSq), mix(zymoKoCirc, zymoKoSq)] }));
barChart(Object.assign({}, dBase, { title: "Desmosterol", titleX: 770, domain: [0,15], ticks: [0,5,10,15], axisX: 669, axisEnd: 863, c1: 724, c2: 807, bx1: 724, bx2: 807, bracket: 13.09, stars: "**",
  mean: desmoMean, hi: desmoHi, lo: desmoLo, points: [mix(desmoCtrlCirc, desmoCtrlSq), mix(desmoKoCirc, desmoKoSq)] }));
barChart(Object.assign({}, dBase, { title: "24-OHC", titleX: 1028, domain: [0,30], ticks: [0,10,20,30], axisX: 921, axisEnd: 1114, c1: 975.7, c2: 1058, bx1: 975.7, bx2: 1058, bracket: 26.9, stars: "**",
  mean: ohcMean, hi: ohcHi, lo: ohcLo, points: [mix(ohcCtrlCirc, ohcCtrlSq), mix(ohcKoCirc, ohcKoSq)] }));
centerText(svg, "ng/1E6 cells", 0, 0, 21.5).attr("transform", "translate(26,1296)rotate(-90)");

var gBase = { y0: 1938, yTop: 1642.7, labelWeight: "bold" };
barChart(Object.assign({}, gBase, { domain: [-4.88,60], ticks: [0,20,40,60], zero: true, axisX: 862.6, axisEnd: 1060, c1: 918.4, c2: 1002.6, bx1: 918.4, bx2: 1002.6, bracket: 55.2, stars: "***",
  thresh: 2, step: 7, size: 36, mean: ldMean, hi: ldHi, lo: ldLo, points: [mix(ldCtrlCirc, ldCtrlSq), mix(ldKoCirc, ldKoSq)] }));
barChart(Object.assign({}, gBase, { domain: [0,10], ticks: [0,2,4,6,8,10], axisX: 1158.8, axisEnd: 1356, c1: 1214.6, c2: 1298.8, bx1: 1214.6, bx2: 1298.8, bracket: 10.18, stars: "*",
  thresh: 1, step: 3.2, size: 28, mean: areaMean, hi: areaHi, lo: areaLo, points: [expandCounts(areaCtrlVal, areaCtrlNum), expandCounts(areaKoVal, areaKoNum)] }));
centerText(svg, "Lipid Droplets per Cell", 0, 0, 21).attr("transform", "translate(810,1787)rotate(-90)");
var areaLab = centerText(svg, "", 0, 0, 21.6).attr("transform", "translate(1106,1787)rotate(-90)");
areaLab.append("tspan").text("Lipid Droplet Area  (\u03bcm");
areaLab.append("tspan").attr("dy", "-0.4em").attr("font-size", 14).text("2");
areaLab.append("tspan").attr("dy", "0.4em").text(")");

// ---------- e: pathway ----------
(function () {
  var g = svg.append("g");
  g.append("rect").attr("x", 1235).attr("y", 1241).attr("width", 162).attr("height", 122).attr("fill", "#f1ebcc");
  svg.select("defs").append("marker").attr("id", "head").attr("viewBox", "0 -6 14 12")
    .attr("refX", 13).attr("markerUnits", "userSpaceOnUse").attr("markerWidth", 15).attr("markerHeight", 13).attr("orient", "auto")
    .append("path").attr("d", "M0,-6L14,0L0,6L4,0Z").attr("fill", "#231f20");

  var arrows = [[1332,1070,1332,1088],[1332,1091,1332,1107],[1332,1127,1332,1163],[1332,1188,1332,1206],[1332,1208,1332,1225],
    [1332,1244,1332,1262],[1332,1264,1332,1282],[1332,1304,1332,1323],[1332,1325,1332,1341],[1332,1363,1332,1399],
    [1315,1425,1292,1449],[1349,1426,1372,1448],[1393,1502,1370,1525],[1427,1503,1450,1525]];
  g.selectAll("line").data(arrows).enter().append("line")
    .attr("x1", function (d) { return d[0]; }).attr("y1", function (d) { return d[1]; })
    .attr("x2", function (d) { return d[2]; }).attr("y2", function (d) { return d[3]; })
    .attr("stroke", "#231f20").attr("stroke-width", 1.8).attr("marker-end", "url(#head)");

  var pills = [["HMGCR",1392,1145,73,23,"#8fa9d8"],["Zymosterol",1331,1293.6,105,23,"#c9513f"],["Desmosterol",1331,1352,113,23,"#c9513f"],
    ["DHCRs",1392,1381,73,23,"#8fa9d8"],["Cholesterol",1331,1412,113,23,"#c9513f"],["ACATs",1421,1436,73,23,"#8fa9d8"],["ABCs",1483,1508,73,23,"#c9513f"]];
  pills.forEach(function (p) {
    g.append("rect").attr("x", p[1] - p[3] / 2).attr("y", p[2] - p[4] / 2).attr("width", p[3]).attr("height", p[4]).attr("rx", 11.5).attr("fill", p[5]);
    centerText(g, p[0], p[1], p[2], 17.4);
  });
  g.append("rect").attr("x", 1214.5).attr("y", 1454).attr("width", 119).attr("height", 44).attr("rx", 21).attr("fill", "#c9513f");

  var labels = [["Acetyl-CoA",1332,1057],["HMG-CoA",1332,1118],["Mevalonate",1332,1176],["Lanosterol",1332,1234],
    ["Oxysterols",1274,1466],["(24-OHC, etc)",1274,1486],["Cholesterol",1409,1466],["esters",1409,1486],
    ["Export",1339,1543],["(Lipoproteins)",1339,1564],["Storage",1483,1543],["(Lipid Droplets)",1483,1564]];
  labels.forEach(function (l) { centerText(g, l[0], l[1], l[2], 17.4); });
  centerText(g, "Bloch Pathway", 0, 0, 16.3).attr("transform", "translate(1247,1301)rotate(-90)");
})();

// ---------- f: micrographs ----------
(function () {
  var g = svg.append("g");
  var defs = svg.select("defs");
  defs.append("filter").attr("id", "soft").append("feGaussianBlur").attr("stdDeviation", 1);
  defs.append("filter").attr("id", "softer").append("feGaussianBlur").attr("stdDeviation", 3);
  defs.append("filter").attr("id", "spot").append("feGaussianBlur").attr("stdDeviation", .5);
  var im = d3.scaleLinear([0, 690], [0, 230]);

  function panel(px, py, bodies, nuclei, spots, bodyOp, blur) {
    var p = g.append("g").attr("transform", "translate(" + px + "," + py + ")");
    p.append("rect").attr("width", 230).attr("height", 229.5).attr("fill", "#0e0f0f").attr("stroke", "#c9c9c9").attr("stroke-width", .8);
    function blobs(list, color, op, filter) {
      p.append("g").attr("filter", "url(#" + filter + ")").selectAll("ellipse").data(list).enter().append("ellipse")
        .attr("cx", function (d) { return im(d[0]); }).attr("cy", function (d) { return im(d[1]); })
        .attr("rx", function (d) { return im(d[2]); }).attr("ry", function (d) { return im(d[3]); })
        .attr("fill", color).attr("opacity", op);
    }
    blobs(bodies, "#1c6b2e", bodyOp, blur);
    blobs(nuclei, "#5048ad", .85, blur === "softer" ? "soft" : "spot");
    if (blur === "softer") {
      // darker streak inside the large nuclei
      blobs(nuclei.map(function (n) { return [n[0], n[1], n[2] * .55, n[3] * .4]; }), "#3a2f8e", .7, "soft");
    }
    blobs(spots, "#55dd3c", 1, "spot");
  }
  panel(235.3, 1570, tlBodies, tlNuclei, tlSpots, .7, "soft");
  panel(472.3, 1570, trBodies, trNuclei, trSpots, .12, "soft");
  panel(235.3, 1805, blBodies, blNuclei, blSpots, .62, "softer");
  panel(472.3, 1805, brBodies, brNuclei, brSpots, .18, "softer");

  g.append("rect").attr("x", 305.7).attr("y", 1621.3).attr("width", 76.7).attr("height", 76.7).attr("fill", "none").attr("stroke", "#eee").attr("stroke-width", 1.3).attr("stroke-dasharray", "4,3");
  g.append("rect").attr("x", 496.3).attr("y", 1578).attr("width", 76.7).attr("height", 76.7).attr("fill", "none").attr("stroke", "#eee").attr("stroke-width", 1.3).attr("stroke-dasharray", "4,3");
  g.append("rect").attr("x", 670).attr("y", 1788.5).attr("width", 27.3).attr("height", 3).attr("fill", "#fff");
  g.append("rect").attr("x", 611.7).attr("y", 2023.5).attr("width", 81.6).attr("height", 3.5).attr("fill", "#fff");

  centerText(g, "Control", 407.7, 1589, 22).style("fill", "#fff");
  var k = centerText(g, "", 637, 1589, 22).style("fill", "#fff");
  k.append("tspan").attr("font-style", "italic").style("fill", "#fff").text("TREX1");
  k.append("tspan").style("fill", "#fff").text(" KO");

  var side = centerText(g, "", 0, 0, 21.6).attr("transform", "translate(217,1692)rotate(-90)");
  side.append("tspan").style("fill", "#5ab24a").text("BODIPY ");
  side.append("tspan").style("fill", "#2e3192").text("DAPI");
  centerText(g, "Zoom", 0, 0, 21).attr("transform", "translate(217,1917)rotate(-90)");
})();

</script>
